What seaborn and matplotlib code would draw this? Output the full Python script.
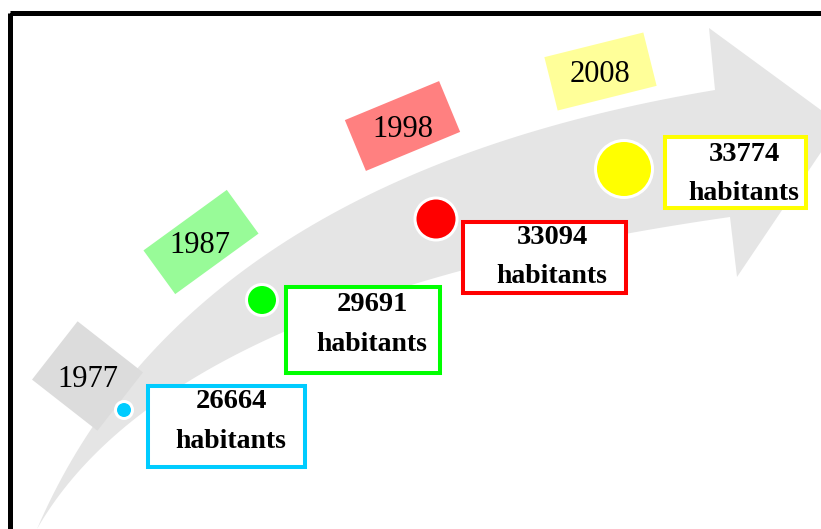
import numpy as np
import pandas as pd
import matplotlib
matplotlib.use("Agg")
import matplotlib.pyplot as plt
from matplotlib.patches import Rectangle, Polygon
import seaborn as sns

# data
years = ["1977", "1987", "1998", "2008"]
population = [26664, 29691, 33094, 33774]

# layout of the infographic (pixel coords, y going down)
dot_x = [124, 262, 436, 624]
dot_y = [410, 300, 219, 169]
dot_r = [7, 14, 19.5, 27]
dot_colors = ["#00ccff", "#00ff00", "#ff0000", "#ffff00"]

tag_colors = ["#dcdcdc", "#98fb98", "#ff8080", "#ffff99"]
tag_center = [(87.5, 376), (201, 242), (402.5, 126), (600.5, 71.5)]
tag_size = [(83, 74), (103, 54), (102, 55), (102, 55)]
tag_angle = [38, -36, -22.5, -14]
tag_text_x = [88, 200, 403, 600]
tag_text_y = [387, 253, 137, 82]

box_extent = [(148, 386, 305, 467), (286, 287, 440, 373),
              (463, 222, 626, 293), (665, 137, 806, 208)]
box_text_x = [231, 372, 552, 744]
num_base_y = [408, 311, 244, 161]
hab_base_y = [448, 351, 283, 200]

df = pd.DataFrame({"year": years, "population": population,
                   "x": dot_x, "y": dot_y})

sns.set_style("white")
plt.rcParams["font.family"] = ["Liberation Serif", "DejaVu Serif"]
plt.rcParams["text.color"] = "black"

W, H = 821, 529
fig = plt.figure(figsize=(W / 100, H / 100), dpi=100)
ax = fig.add_axes([0, 0, 1, 1])
ax.set_xlim(0, W)
ax.set_ylim(H, 0)
ax.axis("off")


def bezier(p0, c, p2, n=80):
    t = np.linspace(0, 1, n)[:, None]
    return (1 - t) ** 2 * np.array(p0) + 2 * t * (1 - t) * np.array(c) + t ** 2 * np.array(p2)


# curved grey arrow
upper = bezier((37, 529), (188, 178), (715, 90))
lower = bezier((37, 529), (170, 297), (730, 217))
head = np.array([(715, 90), (709, 28), (840, 124), (737, 277), (730, 217)])
outline = np.vstack([upper, head, lower[::-1]])
ax.add_patch(Polygon(outline, closed=True, fc="#e5e5e5", ec="none", zorder=1))

# year tags
for i, yr in enumerate(years):
    cx, cy = tag_center[i]
    w, h = tag_size[i]
    ax.add_patch(Rectangle((cx - w / 2, cy - h / 2), w, h, angle=tag_angle[i],
                           rotation_point="center", fc=tag_colors[i], ec="none", zorder=2))
    ax.text(tag_text_x[i], tag_text_y[i], yr, fontsize=22, color="black",
            ha="center", va="baseline", zorder=5)

# dots with white ring
ring = 3
sizes = {yr: (2 * (r + ring / 2) * 0.72) ** 2 for yr, r in zip(years, dot_r)}
sns.scatterplot(data=df, x="x", y="y", hue="year", size="year", sizes=sizes,
                palette=dict(zip(years, dot_colors)), edgecolor="white",
                linewidth=ring * 0.72, legend=False, ax=ax, zorder=3)
ax.set_xlim(0, W)
ax.set_ylim(H, 0)

# population boxes
for i, pop in enumerate(population):
    x0, y0, x1, y1 = box_extent[i]
    ax.add_patch(Rectangle((x0, y0), x1 - x0, y1 - y0, fc="white",
                           ec=dot_colors[i], lw=2.9, zorder=4))
    ax.text(box_text_x[i], num_base_y[i], str(pop), fontsize=20.5, fontweight="bold",
            color="black", ha="center", va="baseline", zorder=5)
    ax.text(box_text_x[i], hab_base_y[i], "habitants", fontsize=20, fontweight="bold",
            color="black", ha="center", va="baseline", zorder=5)

# black frame, cut by the image edge
ax.add_patch(Rectangle((9.5, 12.5), 1000, 800, fill=False, ec="black", lw=3.6, zorder=6))

fig.savefig("out.png", dpi=100)
